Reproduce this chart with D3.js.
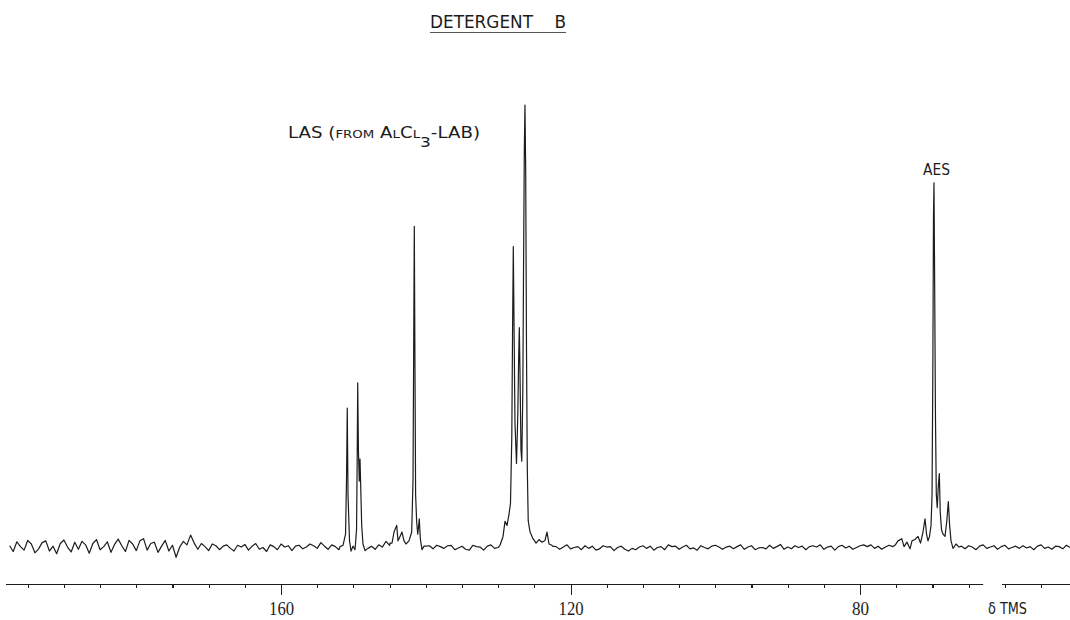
<!DOCTYPE html>
<html>
<head>
<meta charset="utf-8">
<script src="https://cdn.jsdelivr.net/npm/d3@7/dist/d3.min.js"></script>
<style>
	html, body { margin: 0; padding: 0; background: #fff; }
	svg { display: block; }
</style>
</head>
<body>
<div id="chart"></div>
<script>
// 13C NMR spectrum, detergent B. Shift in ppm (delta TMS), intensity in % of tallest line.
var minorTicks = [195, 190, 185, 180, 175, 170, 165, 160, 155, 150, 145, 140, 135, 130, 125, 120,
	115, 110, 105, 100, 95, 90, 85, 80, 75, 70, 65, 60, 55];
var majorTicks = [160, 120, 80];
var axisSegments = [[198, 63.0], [60.4, 51]];

// baseline noise, one value every 0.5 ppm from 197.5 ppm down to 51 ppm
var noiseStart = 197.5;
var noiseStep = 0.5;
var baselineNoise = [
	0.4, -0.9, 1.3, 0.2, -0.6, 1.6, 0.8, -1.2, -0.3, 1.1, 1.5, -0.8, 0.3, -1.4, 0.9, 1.7, 0.1, -1.0, 1.2, -0.4,
	1.4, 0.6, -1.3, 0.9, 1.8, -0.5, 0.2, 1.3, -1.1, 0.7, 1.9, 0.4, -0.9, 1.6, 0.8, -0.7, 1.5, 2.0, -0.6, 0.9,
	1.2, -1.1, 0.3, 1.6, -0.8, 0.5, -2.2, 0.1, 1.4, 0.6, 2.8, 1.0, -0.4, 0.9, 0.2, -0.7, 0.8, 0.4, -0.5, 0.3,
	0.6, -0.2, -0.8, 0.5, 0.1, 0.7, -0.6, 0.3, 0.9, -0.4, 0.0, -0.9, 0.6, 0.2, -0.5, 0.8, 0.1, 0.4, -0.7, 0.3,
	0.5, -0.3, 0.1, 0.8, 0.4, -0.2, 1.1, 0.3, -0.4, 0.6, 0.2, -0.5, -0.1, 0.7, 0.4, -0.3, 0.5, 0.1, 0.6, -0.2,
	0.3, -0.4, 0.6, 0.1, 1.4, 0.5, 0.9, 0.2, 0.8, 1.2, 0.6, 1.0, 0.7, 0.4, 0.9, 0.3, 0.4, -0.3, 0.5, 0.2,
	-0.2, 0.4, 0.5, -0.5, -0.1, 0.3, -0.4, -0.6, 0.5, 0.2, 0.1, -0.6, 0.3, 0.6, -0.2, 0.0, -0.5, -0.2, 0.6, 0.3,
	0.5, 0.5, 0.5, 0.5, 0.5, 0.5, 0.5, 0.5, 0.5, -0.1, 0.3, 0.2, -0.4, 0.1, 0.6, -0.3, 0.0, 0.2, -0.5, 0.4,
	-0.2, 0.3, -0.6, -0.3, 0.4, 0.1, 0.2, -0.7, 0.0, 0.3, -0.4, -0.8, -0.2, -0.5, 0.1, 0.4, -0.2, 0.3, -0.6, 0.0,
	0.2, -0.5, 0.6, 0.2, 0.3, -0.4, 0.1, 0.5, -0.3, -0.1, -0.6, 0.4, 0.0, -0.3, 0.3, 0.5, 0.1, -0.4, 0.1, 0.3,
	-0.3, 0.2, 0.6, -0.4, 0.1, 0.4, -0.5, -0.1, 0.0, -0.3, 0.5, -0.2, 0.2, 0.7, -0.4, 0.1, -0.3, 0.4, 0.0, 0.3,
	-0.5, 0.2, 0.4, 0.1, 0.6, -0.4, 0.1, 0.3, -0.6, 0.2, 0.5, -0.1, 0.3, -0.4, 0.0, 0.4, 0.6, 0.2, 0.6, -0.2,
	0.3, -0.4, 0.1, 0.5, 0.2, 0.6, 0.4, 0.4, 0.4, 0.4, 0.4, 0.4, 0.4, 0.4, 0.4, 0.4, 0.4, 0.4, 0.4, 0.4,
	0.3, 0.3, 0.3, 0.3, -0.3, 0.4, 0.1, -0.5, 0.3, 0.6, -0.2, 0.1, 0.4, -0.4, 0.2, 0.5, -0.3, 0.0, 0.3, -0.2,
	0.4, -0.1, 0.2, -0.5, 0.3, 0.6, -0.2, 0.1, -0.4, 0.3, 0.2, -0.3, 0.5, 0.0
];

var lasPeaks150 = [
	[151.85, 0.2], [151.44, 0.5], [151.09, 3], [150.96, 15], [150.85, 31.5], [150.75, 12], [150.54, 1.5],
	[150.33, -0.8], [150.06, 0.3], [149.78, -0.5], [149.57, 4], [149.48, 20], [149.41, 37.2], [149.31, 22],
	[149.19, 15], [149.09, 20], [148.98, 13], [148.86, 5], [148.68, 0.8], [148.40, -0.7]
];
var lasPeaks141 = [
	[144.95, 1.0], [144.67, 1.0], [144.39, 3.5], [144.02, 5], [143.84, 1.5], [143.56, 2.5], [143.29, 3.5],
	[143.01, 1.5], [142.74, 0.8], [142.32, 1.5], [141.95, 3.5], [141.77, 15], [141.66, 50], [141.59, 72.6],
	[141.51, 45], [141.41, 12], [141.26, 5.7], [141.11, 3.0], [140.90, 6.5], [140.76, 2], [140.53, -0.5],
	[140.25, 0.3]
];
var lasPeaks127 = [
	[129.75, 0.5], [129.33, 2.5], [129.06, 5.9], [128.78, 5], [128.51, 7.5], [128.30, 10], [128.12, 25],
	[128.01, 50], [127.91, 68], [127.81, 50], [127.68, 28], [127.47, 19], [127.29, 30], [127.18, 42],
	[127.08, 49.7], [126.99, 40], [126.85, 22], [126.74, 19.5], [126.60, 35], [126.49, 65], [126.39, 90],
	[126.30, 100], [126.20, 85], [126.09, 45], [125.98, 18], [125.85, 6], [125.60, 3.5], [125.19, 2],
	[124.77, 1.0], [124.36, 1.8], [123.95, 1.2], [123.53, 1.6], [123.26, 3.5], [122.98, 0.8], [122.57, 0.5]
];
var aesPeaks70 = [
	[75.18, 0.5], [74.76, 1.5], [74.25, 2.0], [73.93, 0.2], [73.52, 1.2], [73.10, -0.3], [72.83, 1.5],
	[72.41, 1.8], [72.00, 2.5], [71.65, 1.0], [71.31, 3.5], [71.03, 6.5], [70.82, 3], [70.62, 1.5],
	[70.41, 2.5], [70.20, 5], [70.06, 12], [69.95, 40], [69.86, 75], [69.79, 82.4], [69.70, 60],
	[69.59, 30], [69.47, 12], [69.34, 9], [69.19, 14], [69.05, 16.7], [68.93, 8], [68.75, 4],
	[68.54, 3], [68.27, 2.5], [68.02, 6], [67.81, 10.4], [67.63, 5], [67.44, 1.5], [67.16, -0.2],
	[66.75, 0.8], [66.33, 0.1]
];

var width = 1070, height = 620;
var ink = '#1c1c1c';
var condensed = '"Liberation Sans Narrow", "DejaVu Sans Condensed", "Roboto Condensed", "Arial Narrow", sans-serif';

var svg = d3.select('#chart')
	.append('svg')
	.attr('width', width)
	.attr('height', height)
	.style('background', '#fff');

var x = d3.scaleLinear().domain([198, 51]).range([6, 1070]);
var y = d3.scaleLinear().domain([0, 100]).range([547.5, 105]);
var axisY = 584;

// merge the baseline with the line groups; the groups replace the noise where they sit
var peakGroups = [lasPeaks150, lasPeaks141, lasPeaks127, aesPeaks70];
var noisePoints = baselineNoise.map(function (v, i) {
	return [noiseStart - i * noiseStep, v];
}).filter(function (d) {
	return !peakGroups.some(function (g) {
		return d[0] <= g[0][0] && d[0] >= g[g.length - 1][0];
	});
});
var trace = noisePoints.concat.apply(noisePoints, peakGroups).sort(function (a, b) {
	return b[0] - a[0];
});

var line = d3.line()
	.x(function (d) { return x(d[0]); })
	.y(function (d) { return y(d[1]); });

svg.append('path')
	.datum(trace)
	.attr('d', line)
	.attr('fill', 'none')
	.attr('stroke', ink)
	.attr('stroke-width', 1.2)
	.attr('stroke-linejoin', 'round');

// shift axis: minor ticks every 5 ppm, longer ticks with labels every 40 ppm
var gMinor = svg.append('g')
	.attr('class', 'axis')
	.attr('transform', 'translate(0,' + axisY + ')')
	.call(d3.axisBottom(x).tickValues(minorTicks).tickSize(4).tickSizeOuter(0).tickFormat(''));
var gMajor = svg.append('g')
	.attr('class', 'axis')
	.attr('transform', 'translate(0,' + axisY + ')')
	.call(d3.axisBottom(x).tickValues(majorTicks).tickSize(11).tickSizeOuter(0).tickPadding(7));

svg.selectAll('.axis .domain').remove();
svg.selectAll('.axis .tick line')
	.style('stroke', ink)
	.style('stroke-width', 1.1)
	.style('shape-rendering', 'crispEdges');
gMajor.selectAll('.tick text')
	.attr('y', 31)
	.attr('dy', null)
	.attr('fill', ink)
	.style('font-family', '"Liberation Serif", "DejaVu Serif", serif')
	.style('font-size', '19px')
	.attr('textLength', function (d) { return d >= 100 ? 25 : 17; })
	.attr('lengthAdjust', 'spacingAndGlyphs');

svg.selectAll('.axis-line')
	.data(axisSegments)
	.enter().append('line')
	.attr('class', 'axis-line')
	.attr('x1', function (d) { return x(d[0]); })
	.attr('x2', function (d) { return x(d[1]); })
	.attr('y1', axisY + 0.5)
	.attr('y2', axisY + 0.5)
	.attr('stroke', ink)
	.attr('stroke-width', 1.2);

svg.append('text')
	.attr('x', 988)
	.attr('y', 614)
	.attr('fill', ink)
	.attr('textLength', 39)
	.attr('lengthAdjust', 'spacingAndGlyphs')
	.style('font-family', condensed)
	.style('font-size', '16px')
	.text('\u03b4 TMS');

// title
svg.append('text')
	.attr('x', 430)
	.attr('y', 28)
	.attr('fill', ink)
	.attr('textLength', 136)
	.attr('lengthAdjust', 'spacingAndGlyphs')
	.style('font-family', condensed)
	.style('font-size', '18px')
	.style('white-space', 'pre')
	.text('DETERGENT    B');
svg.append('line')
	.attr('x1', 430).attr('x2', 566)
	.attr('y1', 32.5).attr('y2', 32.5)
	.attr('stroke', '#555')
	.attr('stroke-width', 1);

// peak annotations
var las = svg.append('text')
	.attr('x', 288)
	.attr('y', 138)
	.attr('fill', ink)
	.attr('textLength', 192)
	.attr('lengthAdjust', 'spacingAndGlyphs')
	.style('font-family', condensed)
	.style('font-size', '15px')
	.style('white-space', 'pre');
las.append('tspan').text('LAS (');
las.append('tspan').style('font-size', '11px').text('FROM');
las.append('tspan').text(' A');
las.append('tspan').style('font-size', '11px').text('L');
las.append('tspan').text('C');
las.append('tspan').style('font-size', '11px').text('L');
las.append('tspan').attr('dy', 9).style('font-size', '14px').text('3');
las.append('tspan').attr('dy', -9).text('-LAB)');

svg.append('text')
	.attr('x', 923)
	.attr('y', 175)
	.attr('fill', ink)
	.attr('textLength', 27)
	.attr('lengthAdjust', 'spacingAndGlyphs')
	.style('font-family', condensed)
	.style('font-size', '15px')
	.text('AES');
</script>
</body>
</html>
